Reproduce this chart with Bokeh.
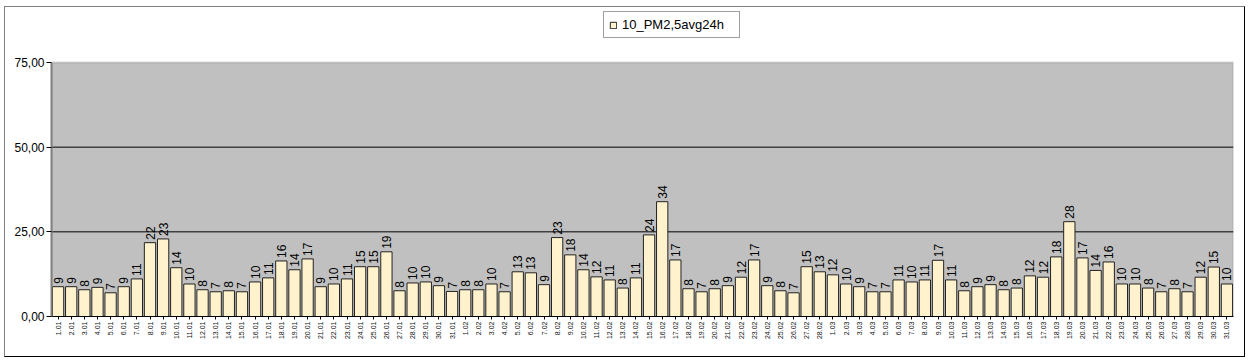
import math
from bokeh.plotting import figure
from bokeh.models import (ColumnDataSource, FactorRange, FixedTicker, Legend, LegendItem,
                          BoxAnnotation, Span)
from bokeh.core.properties import value
from bokeh.embed import file_html
from bokeh.resources import INLINE

dates = ([f"{d}.01" for d in range(1, 32)] +
         [f"{d}.02" for d in range(1, 29)] +
         [f"{d}.03" for d in range(1, 32)])

values_jan = [8.8, 8.8, 7.9, 8.6, 7.0, 8.8, 11.1, 21.8, 22.9, 14.4, 9.6, 7.9, 7.3, 7.6, 7.3,
              10.2, 11.4, 16.4, 13.8, 17.0, 8.8, 9.6, 11.1, 14.7, 14.7, 19.1, 7.6, 9.9, 10.2, 9.1, 7.4]
values_feb = [7.9, 7.9, 9.6, 7.3, 13.2, 12.9, 9.4, 23.3, 18.2, 13.8, 11.7, 10.8, 8.4, 11.4,
              24.1, 33.9, 16.7, 8.2, 7.3, 8.2, 9.1, 11.6, 16.7, 9.1, 7.6, 7.0, 14.7, 13.2]
values_mar = [12.3, 9.6, 8.8, 7.3, 7.3, 10.8, 10.2, 10.8, 16.6, 10.8, 7.6, 8.8, 9.4, 7.9, 8.4,
              12.0, 11.6, 17.6, 28.0, 17.3, 13.6, 16.1, 9.6, 9.6, 8.4, 7.3, 8.2, 7.3, 11.6, 14.6, 9.6]
pm25 = values_jan + values_feb + values_mar
labels = [f"{v:.0f}" for v in pm25]

y_ticks = [0, 25, 50, 75]
y_grid_lines = [25, 50]
y_tick_labels = {0: "0,00", 25: "25,00", 50: "50,00", 75: "75,00"}
y_max = 75
series_name = "10_PM2,5avg24h"

# frame extends above the plotting area so that the legend (inside the frame) is visible
FRAME_H = 309
AREA_H = 254

src = ColumnDataSource(dict(date=dates, val=pm25, lab=labels))

p = figure(x_range=FactorRange(*dates, range_padding=0),
           y_range=(0, y_max * FRAME_H / AREA_H),
           width=1241, height=351, output_backend="svg", toolbar_location=None,
           min_border_left=46, min_border_right=13, min_border_top=0, min_border_bottom=42,
           background_fill_color="white", border_fill_color="white")
p.styles = {"margin-left": "4px", "margin-top": "6px",
            "border-top": "1px solid #808080", "border-left": "1px solid #808080",
            "border-right": "1px solid #000000", "border-bottom": "1px solid #000000"}
p.outline_line_color = None

# gray plotting area 0..75
area = BoxAnnotation(bottom=0, top=y_max, fill_color="#C0C0C0", fill_alpha=1,
                     line_color="#808080", line_width=2, level="image")
p.add_layout(area)

p.xgrid.grid_line_color = None
p.ygrid.grid_line_color = None
for g in y_grid_lines:
    p.add_layout(Span(location=g, dimension="width", line_color="#000000",
                      line_width=1, level="underlay"))

bars = p.vbar(x="date", top="val", width=0.86, source=src,
              fill_color="#FFF2CC", line_color="#222222", line_width=1)

p.text(x="date", y="val", text="lab", source=src, angle=math.pi / 2,
       text_align="left", text_baseline="middle", y_offset=-3,
       text_font=value("Liberation Sans"), text_font_size="12px", text_color="#000000")

p.yaxis.ticker = FixedTicker(ticks=y_ticks)
p.yaxis.bounds = (0, y_max)
p.yaxis.major_label_overrides = y_tick_labels
p.yaxis.major_label_text_font = "Liberation Sans"
p.yaxis.major_label_text_font_size = "12px"
p.yaxis.major_label_text_color = "#000000"
p.yaxis.axis_line_color = "#808080"
p.yaxis.axis_line_width = 2
p.yaxis.major_tick_line_color = "#000000"
p.yaxis.major_tick_out = 5
p.yaxis.major_tick_in = 0
p.yaxis.minor_tick_line_color = None
p.yaxis.major_label_standoff = 2

p.xaxis.major_label_orientation = math.pi / 2
p.xaxis.major_label_text_font = "Liberation Sans"
p.xaxis.major_label_text_font_size = "7px"
p.xaxis.major_label_text_color = "#111111"
p.xaxis.axis_line_color = "#000000"
p.xaxis.major_tick_line_color = "#000000"
p.xaxis.major_tick_out = 3
p.xaxis.major_tick_in = 0
p.xaxis.major_label_standoff = 2

legend = Legend(items=[LegendItem(label=series_name, renderers=[bars])],
                location=(552, 278), orientation="vertical",
                label_text_font="Liberation Sans", label_text_font_size="13px",
                label_text_color="#000000", glyph_width=8, glyph_height=8,
                label_standoff=5, padding=5, margin=0, spacing=0, label_width=112,
                border_line_color="#404040", border_line_width=1,
                background_fill_color="white", background_fill_alpha=1)
p.add_layout(legend)

open("out.html", "w").write(file_html(p, INLINE))
